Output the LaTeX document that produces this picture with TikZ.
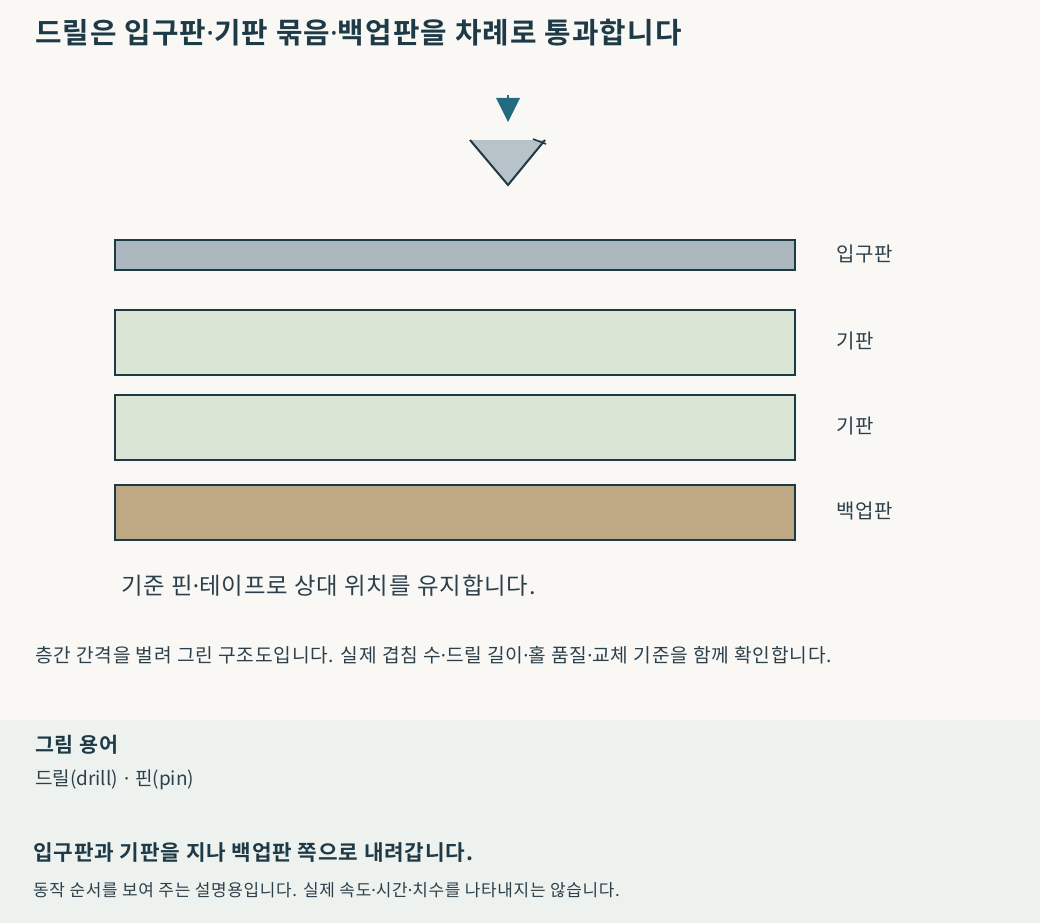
\documentclass[tikz,border=0pt]{standalone}
\usepackage{fontspec}
\setmainfont{Noto Sans CJK KR}
\newfontfamily\kr[LetterSpace=4]{Noto Sans CJK KR}
\newfontfamily\krn{Noto Sans CJK KR}
\newfontfamily\krb[LetterSpace=4]{Noto Sans CJK KR Bold}
\newfontfamily\latin{Noto Sans}
\newcommand\md{{\latin ·}}
\newcommand\mdb{{\latin\bfseries ·}}
\definecolor{bgmain}{HTML}{F9F8F5}
\definecolor{bgpanel}{HTML}{EEF2EF}
\definecolor{ink}{HTML}{1E3A47}
\definecolor{inksoft}{HTML}{2C404B}
\definecolor{arrowc}{HTML}{236A80}
\definecolor{drillc}{HTML}{B8C3C9}
\definecolor{entryc}{HTML}{ACB7C0}
\definecolor{subc}{HTML}{DAE5D5}
\definecolor{backc}{HTML}{BFA985}
\begin{document}
\begin{tikzpicture}[x=1pt,y=-1pt,
  plate/.style={draw=ink, line width=2pt, minimum width=680pt, inner sep=0pt, outer sep=0pt, rectangle},
  lbl/.style={anchor=west, inner sep=0pt, text=inksoft, font=\kr\fontsize{20}{23}\selectfont},
  txt/.style={anchor=west, inner sep=0pt, text=inksoft},
  bold/.style={anchor=west, inner sep=0pt, text=ink}]
\useasboundingbox (0,0) rectangle (1040,923);
\fill[bgmain] (0,0) rectangle (1040,923);
\fill[bgpanel] (0,720) rectangle (1040,923);

\node[bold, font=\krb\fontsize{28.8}{32}\selectfont] (title) at (35,33) {드릴은 입구판\mdb 기판 묶음\mdb 백업판을 차례로 통과합니다};

% feed arrow
\coordinate (arrtop) at (508,95);
\coordinate (arrbase) at (508,99);
\draw[arrowc, line width=2pt] (arrtop) -- (arrbase);
\fill[arrowc] (496,98) -- (520,98) -- (508,122) -- cycle;

% drill
\fill[drillc] (470,140) -- (545,140) -- (508,185) -- cycle;
\draw[ink, line width=2pt, line join=miter] (470,140) -- (508,185) -- (545,140);
\draw[ink, line width=1.6pt] (533,139) -- (546,144);

% plates
\node[plate, fill=entryc, minimum height=30pt] (entry) at (455,255) {};
\node[plate, fill=subc, minimum height=65pt] (sub1) at (455,342.5) {};
\node[plate, fill=subc, minimum height=65pt] (sub2) at (455,427.5) {};
\node[plate, fill=backc, minimum height=55pt] (back) at (455,512.5) {};

\node[lbl] (lentry) at (836,254) {입구판};
\node[lbl] (lsub1) at (836,341) {기판};
\node[lbl] (lsub2) at (836,426) {기판};
\node[lbl] (lback) at (836,511) {백업판};

\node[txt, font=\kr\fontsize{23.4}{27}\selectfont] (pins) at (121,586) {기준 핀\md 테이프로 상대 위치를 유지합니다.};
\node[txt, font=\kr\fontsize{19.2}{23}\selectfont] (note) at (35,655) {층간 간격을 벌려 그린 구조도입니다. 실제 겹침 수\md 드릴 길이\md 홀 품질\md 교체 기준을 함께 확인합니다.};

\node[bold, font=\krb\fontsize{20.6}{23}\selectfont] (terms) at (35,745) {그림 용어};
\node[txt, font=\krn\fontsize{19}{23}\selectfont] (termlist) at (35,780) {드릴(drill)\hspace{6pt}\md\hspace{6pt}핀(pin)};
\node[bold, font=\krb\fontsize{21.3}{25}\selectfont] (cap) at (33,853) {입구판과 기판을 지나 백업판 쪽으로 내려갑니다.};
\node[txt, font=\kr\fontsize{16.95}{20}\selectfont] (capnote) at (33,890) {동작 순서를 보여 주는 설명용입니다. 실제 속도\md 시간\md 치수를 나타내지는 않습니다.};
\end{tikzpicture}
\end{document}
